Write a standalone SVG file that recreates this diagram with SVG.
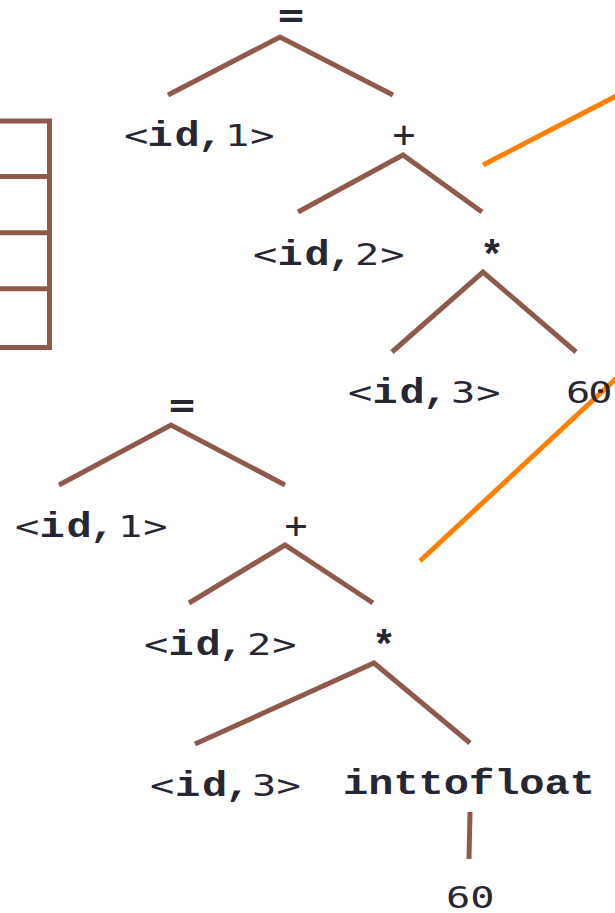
<svg xmlns="http://www.w3.org/2000/svg" width="615" height="913" viewBox="0 0 615 913">
<style>
text{fill:#272733;text-anchor:middle}
.s{font-family:"DejaVu Sans Mono",monospace;font-size:31px}
.p{font-family:"DejaVu Sans Mono",monospace;font-size:38px}
.b{font-family:"Liberation Mono",monospace;font-weight:bold;font-size:35px}
.eq{font-family:"DejaVu Sans Mono",monospace;font-weight:bold;font-size:36px}
.op{font-family:"Liberation Mono",monospace;font-weight:bold;font-size:40px}
.e{stroke:#8f5a4e;stroke-width:5;fill:none;stroke-linejoin:miter}
.o{stroke:#ff8000;stroke-width:5;fill:none}
</style>
<rect width="615" height="913" fill="#ffffff"/>
<g id="table">
<path class="e" d="M0 121H49.5V347.5H0M0 176.5H49.5M0 232.7H49.5M0 288.7H49.5" stroke-linejoin="round"/>
</g>
<g id="connectors">
<polyline class="e" points="168,95 280,37 393,95"/>
<polyline class="e" points="298,212 403,155 482,212"/>
<polyline class="e" points="392,352 483,272 576,352"/>
<polyline class="e" points="59,485 171,425 285,485"/>
<polyline class="e" points="189,603 285,545 373,603"/>
<polyline class="e" points="195,744 374,663 470,743"/>
<line class="e" x1="470" y1="812" x2="469" y2="859"/>
<line class="o" x1="483" y1="165" x2="620" y2="94"/>
<line class="o" x1="420" y1="561" x2="620" y2="375"/>
</g>
<g id="t1-assign"><text class="eq" transform="translate(291 27) scale(1.2 1)" x="0">=</text></g>
<g id="t1-id1">
<text class="s" transform="translate(136 146) scale(1.3 1)" x="0">&lt;</text>
<text class="b" transform="translate(160 146) scale(1.2 1)" x="0 22.5 42">id,</text>
<text class="s" transform="translate(237 146) scale(1.3 1)" x="0 19.5">1&gt;</text>
</g>
<g id="t1-plus"><text class="p" x="404" y="147">+</text></g>
<g id="t1-id2">
<text class="s" transform="translate(265 265) scale(1.3 1)" x="0">&lt;</text>
<text class="b" transform="translate(290 265) scale(1.2 1)" x="0 22.5 42">id,</text>
<text class="s" transform="translate(367 265) scale(1.3 1)" x="0 19.5">2&gt;</text>
</g>
<g id="t1-mul"><text class="op" x="492" y="269">*</text></g>
<g id="t1-id3">
<text class="s" transform="translate(360 403) scale(1.3 1)" x="0">&lt;</text>
<text class="b" transform="translate(385 403) scale(1.2 1)" x="0 22.5 42">id,</text>
<text class="s" transform="translate(463 403) scale(1.3 1)" x="0 19.5">3&gt;</text>
</g>
<g id="t1-60"><text class="s" transform="translate(578 403) scale(1.3 1)" x="0 17.3">60</text></g>
<g id="t2-assign"><text class="eq" transform="translate(182 417) scale(1.2 1)" x="0">=</text></g>
<g id="t2-id1">
<text class="s" transform="translate(27 537) scale(1.3 1)" x="0">&lt;</text>
<text class="b" transform="translate(52 537) scale(1.2 1)" x="0 22.5 42">id,</text>
<text class="s" transform="translate(130 537) scale(1.3 1)" x="0 19.5">1&gt;</text>
</g>
<g id="t2-plus"><text class="p" x="296" y="538">+</text></g>
<g id="t2-id2">
<text class="s" transform="translate(156 655) scale(1.3 1)" x="0">&lt;</text>
<text class="b" transform="translate(181 655) scale(1.2 1)" x="0 22.5 42">id,</text>
<text class="s" transform="translate(259 655) scale(1.3 1)" x="0 19.5">2&gt;</text>
</g>
<g id="t2-mul"><text class="op" x="384" y="659">*</text></g>
<g id="t2-id3">
<text class="s" transform="translate(162 796) scale(1.3 1)" x="0">&lt;</text>
<text class="b" transform="translate(187.5 796) scale(1.2 1)" x="0 22.5 42">id,</text>
<text class="s" transform="translate(264 796) scale(1.3 1)" x="0 19">3&gt;</text>
</g>
<g id="t2-inttofloat"><text class="b" transform="translate(343 794) scale(1.2 1)" x="0" style="text-anchor:start">inttofloat</text></g>
<g id="t2-60"><text class="s" transform="translate(458 908) scale(1.3 1)" x="0 18.8">60</text></g>
</svg>
